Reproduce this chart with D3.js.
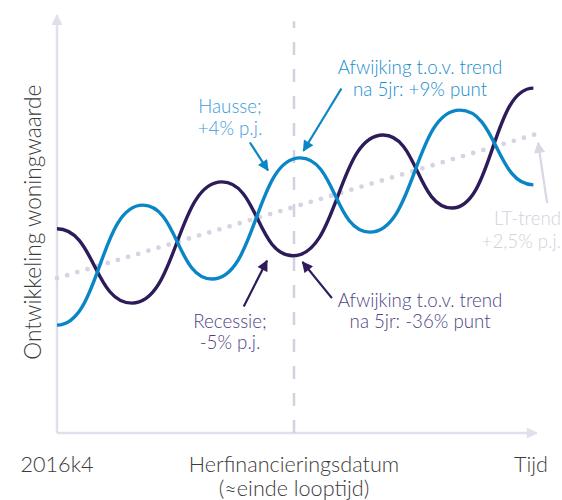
<!DOCTYPE html>
<html><head><meta charset="utf-8">
<script src="https://cdn.jsdelivr.net/npm/d3@7/dist/d3.min.js"></script>
<style>
html,body{margin:0;padding:0;background:#fff;}
text{font-family:Lato,"Open Sans",sans-serif;font-weight:300;}
</style></head>
<body><svg id="c" width="562" height="500"></svg>
<script>
// time in years since 2016k4, value = index of house value (arbitrary units); turning points of each scenario
const hausseT = [0, 1.81, 3.27, 5.13, 6.60, 8.50, 10.05];
const hausseV = [26.0, 54.9, 37.1, 66.3, 48.4, 77.8, 59.8];
const recessieT = [0, 1.58, 3.48, 4.98, 6.88, 8.33, 10.05];
const recessieV = [49.2, 31.3, 60.5, 42.7, 71.8, 54.2, 83.1];
const trendT = [0, 10.1];
const trendV = [37.3, 72.0];
const refinT = 5.0;
const xTickLabels = ["2016k4", "Herfinancieringsdatum", "Tijd"];
const xTickSub = ["", "(≈einde looptijd)", ""];
const yTitle = "Ontwikkeling woningwaarde";

const svg = d3.select("#c");
const x = d3.scaleLinear().domain([0, 10]).range([57, 531]);
const y = d3.scaleLinear().domain([0, 100]).range([433, 18]);

const defs = svg.append("defs");
function marker(id, color, w, h) {
  defs.append("marker").attr("id", id).attr("viewBox", "0 0 10 10")
    .attr("refX", 9).attr("refY", 5).attr("markerWidth", w).attr("markerHeight", h)
    .attr("markerUnits", "userSpaceOnUse").attr("orient", "auto")
    .append("path").attr("d", "M0,0 L10,5 L0,10 Z").attr("fill", color);
}
marker("axArrow", "#e1dfeb", 12, 11);
marker("blueArrow", "#0a86c6", 12, 11);
marker("purpArrow", "#2d1b5a", 12, 11);
marker("greyArrow", "#d9d7e3", 12, 11);

// axes
svg.append("line").attr("x1", x(0)).attr("y1", y(0)).attr("x2", x(0)).attr("y2", y(100.7))
  .attr("stroke", "#e1dfeb").attr("stroke-width", 2.5).attr("marker-end", "url(#axArrow)");
svg.append("line").attr("x1", x(0)).attr("y1", y(0)).attr("x2", x(10.12)).attr("y2", y(0))
  .attr("stroke", "#e1dfeb").attr("stroke-width", 2.5).attr("marker-end", "url(#axArrow)");

// refinancing dashed line
svg.append("line").attr("x1", x(refinT)).attr("x2", x(refinT)).attr("y1", y(0)).attr("y2", y(99.2))
  .attr("stroke", "#d3d1e1").attr("stroke-width", 2.5).attr("stroke-dasharray", "13 14");

// trend dotted
const line = d3.line().x(d => x(d[0])).y(d => y(d[1]));
svg.append("path").attr("d", line(d3.zip(trendT, trendV)))
  .attr("fill", "none").attr("stroke", "#d6d3e3").attr("stroke-width", 4.8)
  .attr("stroke-linecap", "round").attr("stroke-dasharray", "0 10.6");

const curve = d3.line().x(d => x(d[0])).y(d => y(d[1])).curve(d3.curveBumpX);
svg.append("path").attr("d", curve(d3.zip(recessieT, recessieV)))
  .attr("fill", "none").attr("stroke", "#2d1b5a").attr("stroke-width", 3.4);
svg.append("path").attr("d", curve(d3.zip(hausseT, hausseV)))
  .attr("fill", "none").attr("stroke", "#0a86c6").attr("stroke-width", 3.4);

// axis title
svg.append("text").attr("transform", `translate(41,${y(50.8)}) rotate(-90)`)
  .attr("text-anchor", "middle").attr("font-size", 22.7).attr("fill", "#3c3c3c").text(yTitle);

// x labels
const xPos = [0, refinT, 10];
xTickLabels.forEach((t, i) => {
  svg.append("text").attr("x", x(xPos[i])).attr("y", 471.5).attr("text-anchor", "middle")
    .attr("font-size", 21.6).attr("fill", "#3c3c3c").text(t);
  if (xTickSub[i]) svg.append("text").attr("x", x(xPos[i])).attr("y", 496).attr("text-anchor", "middle")
    .attr("font-size", 21.6).attr("fill", "#3c3c3c").text(xTickSub[i]);
});

// annotations
const notes = [
  {lines: ["Afwijking t.o.v. trend", "na 5jr: +9% punt"], t: 7.66, v: 86.5, color: "#168cce",
   from: [6.0, 83.0], to: [5.2, 68.0], m: "blueArrow", ac: "#0a86c6"},
  {lines: ["Hausse;", "+4% p.j."], t: 3.65, v: 77.0, color: "#3c9bd6",
   from: [4.07, 70.0], to: [4.45, 63.3], m: "blueArrow", ac: "#0a86c6"},
  {lines: ["Recessie;", "-5% p.j."], t: 3.65, v: 25.4, color: "#4e4283",
   from: [3.94, 30.5], to: [4.43, 41.5], m: "purpArrow", ac: "#2d1b5a"},
  {lines: ["Afwijking t.o.v. trend", "na 5jr: -36% punt"], t: 7.66, v: 30.4, color: "#4e4283",
   from: [5.8, 32.5], to: [5.18, 41.2], m: "purpArrow", ac: "#2d1b5a"}
];
notes.forEach(n => {
  n.lines.forEach((l, i) => {
    svg.append("text").attr("x", x(n.t)).attr("y", y(n.v) + i * 21.5).attr("text-anchor", "middle")
      .attr("font-size", 18.7).attr("fill", n.color).text(l);
  });
  svg.append("line").attr("x1", x(n.from[0])).attr("y1", y(n.from[1]))
    .attr("x2", x(n.to[0])).attr("y2", y(n.to[1]))
    .attr("stroke", n.ac).attr("stroke-width", 2.2)
    .attr("marker-end", `url(#${n.m})`);
});

// LT-trend
svg.append("text").attr("x", 561).attr("y", 225).attr("text-anchor", "end")
  .attr("font-size", 18.7).attr("fill", "#d3d1dc").text("LT-trend");
svg.append("text").attr("x", 561).attr("y", 248).attr("text-anchor", "end")
  .attr("font-size", 18.7).attr("fill", "#d3d1dc").text("+2,5% p.j.");
svg.append("line").attr("x1", x(10.34)).attr("y1", y(55.4)).attr("x2", x(10.15)).attr("y2", y(69.9))
  .attr("stroke", "#d9d7e3").attr("stroke-width", 2.2).attr("marker-end", "url(#greyArrow)");
</script></body></html>
